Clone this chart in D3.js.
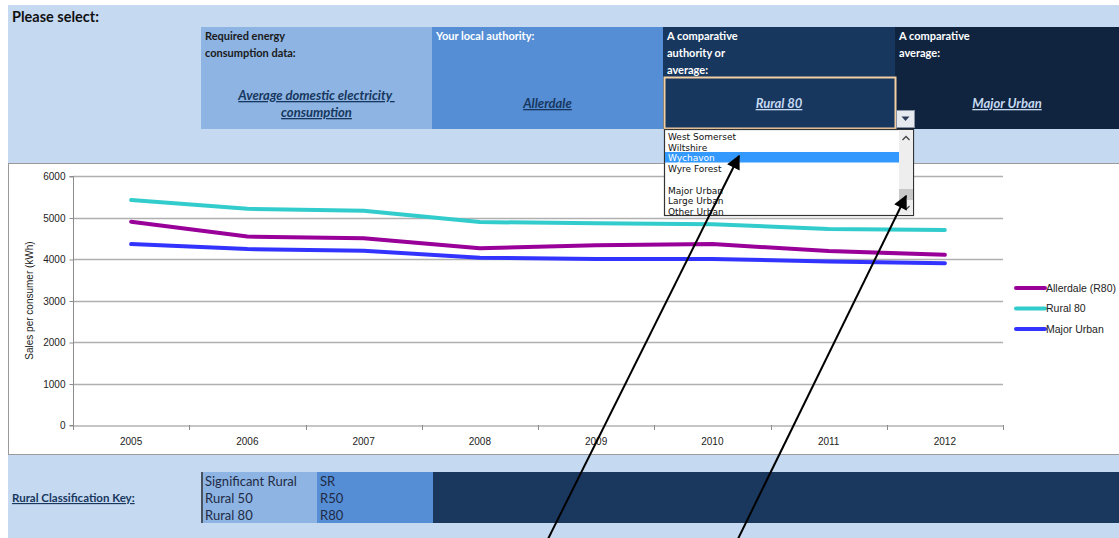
<!DOCTYPE html>
<html>
<head>
<meta charset="utf-8">
<script src="https://cdn.jsdelivr.net/npm/d3@7"></script>
<style>
  body { margin: 0; background: #fff; }
  svg { display: block; }
  .hdr { font-family: Lato, "Open Sans", sans-serif; font-weight: bold; font-size: 11px; }
  .val { font-family: Lato, "Open Sans", sans-serif; font-weight: bold; font-style: italic; font-size: 13px; text-decoration: underline; }
  .chart text { font-family: "Liberation Sans", Arial, sans-serif; font-size: 10px; fill: #222; }
  .list text { font-family: "DejaVu Sans", sans-serif; font-size: 9px; fill: #111; }
  .key text { font-family: Lato, "Open Sans", sans-serif; font-size: 13px; fill: #1f2a44; }
</style>
</head>
<body>
<div id="chart"></div>
<script>
// Data
var years = [2005, 2006, 2007, 2008, 2009, 2010, 2011, 2012];
var allerdale = [4900, 4540, 4500, 4260, 4330, 4360, 4190, 4100];
var rural80 = [5420, 5210, 5160, 4890, 4860, 4840, 4720, 4700];
var majorUrban = [4360, 4240, 4200, 4030, 4000, 4000, 3940, 3900];
var seriesNames = ["Allerdale (R80)", "Rural 80", "Major Urban"];
var seriesColors = ["#990099", "#33CCCC", "#3333FF"];
var yTicks = [0, 1000, 2000, 3000, 4000, 5000, 6000];
var listItems = ["West Somerset", "Wiltshire", "Wychavon", "Wyre Forest", "", "Major Urban", "Large Urban", "Other Urban"];
var keyNames = ["Significant Rural", "Rural 50", "Rural 80"];
var keyCodes = ["SR", "R50", "R80"];

var width = 1119;
var height = 538;

var svg = d3.select("#chart").append("svg")
  .attr("width", width)
  .attr("height", height);

// sheet background
svg.append("rect").attr("x", 8).attr("y", 5).attr("width", width - 8).attr("height", height - 5).attr("fill", "#C5D9F1");

svg.append("text").attr("class", "hdr").attr("x", 12).attr("y", 22)
  .style("font-size", "14.5px").attr("fill", "#111").text("Please select:");

/* Header cells */
var cells = [
  {x: 201, w: 231, fill: "#8DB4E2", color: "#1a1a1a", label: ["Required energy", "consumption data:"], value: ["Average domestic electricity ", "consumption"], vcolor: "#17375E"},
  {x: 432, w: 231, fill: "#558ED5", color: "#fff", label: ["Your local authority:"], value: ["Allerdale"], vcolor: "#17375E"},
  {x: 663, w: 232, fill: "#17375E", color: "#fff", label: ["A comparative", "authority or", "average:"], value: ["Rural 80"], vcolor: "#C5D9F1"},
  {x: 895, w: 224, fill: "#10243F", color: "#fff", label: ["A comparative", "average:"], value: ["Major Urban"], vcolor: "#C5D9F1"}
];

cells.forEach(function (c) {
  svg.append("rect").attr("x", c.x).attr("y", 27).attr("width", c.w).attr("height", 102).attr("fill", c.fill);
  c.label.forEach(function (t, i) {
    svg.append("text").attr("class", "hdr").attr("x", c.x + 4).attr("y", 40 + i * 17).attr("fill", c.color).text(t);
  });
  var y0 = c.value.length > 1 ? 100 : 108;
  c.value.forEach(function (t, i) {
    svg.append("text").attr("class", "val").attr("x", c.x + c.w / 2).attr("y", y0 + i * 17)
      .attr("text-anchor", "middle").attr("fill", c.vcolor).style("white-space", "pre").text(t);
  });
});

// selected cell outline
svg.append("rect").attr("x", 664.5).attr("y", 77.5).attr("width", 231).attr("height", 51)
  .attr("fill", "none").attr("stroke", "#F3CFA3").attr("stroke-width", 2);

/* Chart area */
svg.append("rect").attr("x", 8.5).attr("y", 163.5).attr("width", width - 8).attr("height", 291)
  .attr("fill", "#fff").attr("stroke", "#9a9a9a").attr("stroke-width", 1);

var chart = svg.append("g").attr("class", "chart");

var xScale = d3.scaleBand().domain(years).range([73, 1003]);
var yScale = d3.scaleLinear().domain([0, 6000]).range([425, 176]);

// gridlines
chart.append("g").selectAll("line").data(yTicks.slice(1)).enter().append("line")
  .attr("x1", 73).attr("x2", 1003)
  .attr("y1", d => Math.round(yScale(d)) + 0.5).attr("y2", d => Math.round(yScale(d)) + 0.5)
  .attr("stroke", "#B0B0B0").attr("stroke-width", 1.3);

var yAxis = d3.axisLeft(yScale).tickValues(yTicks).tickFormat(d3.format("d")).tickSize(4).tickPadding(4);
var yAxisGroup = chart.append("g").attr("transform", "translate(73.5,0.5)").call(yAxis);
yAxisGroup.selectAll("line, path").attr("stroke", "#8c8c8c");
yAxisGroup.select(".domain").attr("d", "M-4," + yScale(6000) + "H0V" + yScale(0) + "H-4");
yAxisGroup.selectAll("text").style("font-size", "10px").attr("fill", "#222");

var xAxis = d3.axisBottom(xScale).tickSize(0).tickPadding(12);
var xAxisGroup = chart.append("g").attr("transform", "translate(0," + (yScale(0) + 0.5) + ")").call(xAxis);
xAxisGroup.select(".domain").attr("stroke", "#8c8c8c");
xAxisGroup.selectAll("text").attr("fill", "#222");
// tick marks at category boundaries
chart.append("g").selectAll("line").data(years.concat(["end"])).enter().append("line")
  .attr("x1", d => Math.round(d === "end" ? xScale.range()[1] : xScale(d)) + 0.5)
  .attr("x2", d => Math.round(d === "end" ? xScale.range()[1] : xScale(d)) + 0.5)
  .attr("y1", yScale(0)).attr("y2", yScale(0) + 5)
  .attr("stroke", "#8c8c8c");

chart.append("text")
  .attr("transform", "translate(33," + yScale(3000) + ") rotate(-90)")
  .attr("text-anchor", "middle").style("font-size", "10px").text("Sales per consumer (kWh)");

// lines
var allSeries = [allerdale, rural80, majorUrban];
var line = d3.line()
  .x((d, i) => xScale(years[i]) + xScale.bandwidth() / 2)
  .y(d => yScale(d));

chart.append("g").selectAll("path").data(allSeries).enter().append("path")
  .attr("d", d => line(d))
  .attr("fill", "none")
  .attr("stroke", (d, i) => seriesColors[i])
  .attr("stroke-width", 4)
  .attr("stroke-linecap", "round")
  .attr("stroke-linejoin", "round");

// legend
var legend = chart.append("g").selectAll("g").data(seriesNames).enter().append("g")
  .attr("transform", (d, i) => "translate(1016," + (288 + i * 20.5) + ")");
legend.append("line").attr("x1", 0).attr("x2", 29).attr("y1", 0).attr("y2", 0)
  .attr("stroke", (d, i) => seriesColors[i]).attr("stroke-width", 4).attr("stroke-linecap", "round");
legend.append("text").attr("x", 30).attr("y", 3.5).style("font-size", "10.5px").text(d => d);

/* Dropdown list */
var list = svg.append("g").attr("class", "list");
list.append("rect").attr("x", 664.5).attr("y", 129.5).attr("width", 249).attr("height", 86)
  .attr("fill", "#fff").attr("stroke", "#333").attr("stroke-width", 1.2);
list.append("rect").attr("x", 899).attr("y", 130).attr("width", 14).attr("height", 85).attr("fill", "#EEEEEE");
list.append("rect").attr("x", 899).attr("y", 189).attr("width", 14).attr("height", 11).attr("fill", "#C8C8C8");
list.append("path").attr("d", "M902.5,140 L906,136.5 L909.5,140").attr("fill", "none").attr("stroke", "#444").attr("stroke-width", 1.3);
list.append("path").attr("d", "M902.5,206 L906,209.5 L909.5,206").attr("fill", "none").attr("stroke", "#444").attr("stroke-width", 1.3);
list.append("rect").attr("x", 665).attr("y", 152).attr("width", 234).attr("height", 10.5).attr("fill", "#3399FF");
list.selectAll("text.item").data(listItems).enter().append("text")
  .attr("class", "item")
  .attr("x", 668).attr("y", (d, i) => 140 + i * 10.7)
  .style("fill", d => d === "Wychavon" ? "#fff" : "#111")
  .text(d => d);

// dropdown button
svg.append("rect").attr("x", 896.5).attr("y", 110.5).attr("width", 18).attr("height", 17)
  .attr("fill", "#E6E9EE").attr("stroke", "#8a93a3");
svg.append("path").attr("d", "M901.5,116.5 L909.5,116.5 L905.5,121 Z").attr("fill", "#2b3a57");

/* Rural classification key */
svg.append("text").attr("class", "hdr").attr("x", 12).attr("y", 502)
  .style("font-size", "11.5px").style("text-decoration", "underline").attr("fill", "#17375E")
  .text("Rural Classification Key:");

var key = svg.append("g").attr("class", "key");
key.append("rect").attr("x", 201).attr("y", 472).attr("width", 116).attr("height", 51).attr("fill", "#8DB4E2");
key.append("rect").attr("x", 317).attr("y", 472).attr("width", 116).attr("height", 51).attr("fill", "#558ED5");
key.append("rect").attr("x", 433).attr("y", 472).attr("width", width - 433).attr("height", 51).attr("fill", "#1A375E");
key.append("line").attr("x1", 202).attr("x2", 202).attr("y1", 472).attr("y2", 523).attr("stroke", "#333").attr("stroke-width", 1.5);
key.selectAll("text.kn").data(keyNames).enter().append("text").attr("class", "kn")
  .attr("x", 205).attr("y", (d, i) => 486 + i * 17).text(d => d);
key.selectAll("text.kc").data(keyCodes).enter().append("text").attr("class", "kc")
  .attr("x", 320).attr("y", (d, i) => 486 + i * 17).text(d => d);

/* Annotation arrows */
var defs = svg.append("defs");
defs.append("marker").attr("id", "head").attr("viewBox", "0 0 10 10")
  .attr("refX", 9).attr("refY", 5).attr("markerWidth", 7.5).attr("markerHeight", 7)
  .attr("markerUnits", "strokeWidth").attr("orient", "auto")
  .append("path").attr("d", "M0,0 L10,5 L0,10 Z").attr("fill", "#000");

var arrows = [
  {x1: 545, y1: 545, x2: 739, y2: 156},
  {x1: 735, y1: 545, x2: 906, y2: 196}
];
svg.append("g").selectAll("line").data(arrows).enter().append("line")
  .attr("x1", d => d.x1).attr("y1", d => d.y1).attr("x2", d => d.x2).attr("y2", d => d.y2)
  .attr("stroke", "#000").attr("stroke-width", 2)
  .attr("marker-end", "url(#head)");
</script>
</body>
</html>
